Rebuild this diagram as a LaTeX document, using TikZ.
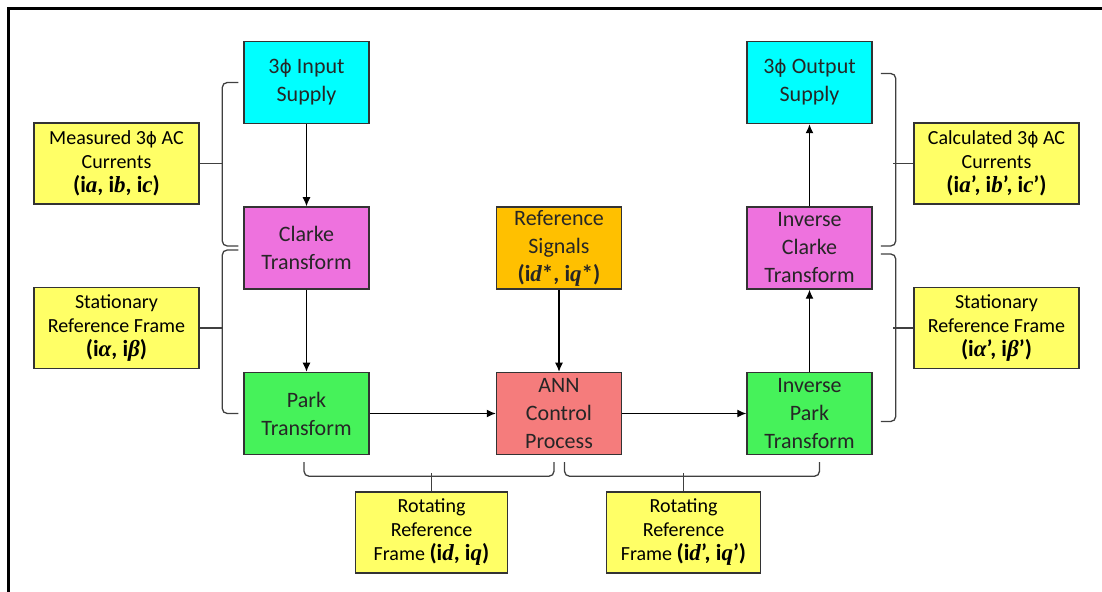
\documentclass[tikz,border=0pt]{standalone}
\usepackage{fontspec}
\setmainfont{Carlito}
\newfontfamily\phifont{DejaVu Sans}[Scale=0.85]
\newfontfamily\varfont{Liberation Serif}
\usepackage{xcolor}
\usepackage{tikz}
\usetikzlibrary{positioning,arrows.meta}
\definecolor{supplycyan}{RGB}{0,255,255}
\definecolor{clarkepink}{RGB}{238,114,222}
\definecolor{parkgreen}{RGB}{70,242,90}
\definecolor{refamber}{RGB}{255,192,0}
\definecolor{annred}{RGB}{245,124,124}
\definecolor{noteyellow}{RGB}{255,255,102}
\newcommand{\ph}{{\phifont ϕ}}
\newcommand{\vv}[1]{{\varfont\bfseries\itshape #1}}
\newcommand{\sig}[1]{{\fontsize{11.5}{13}\selectfont\bfseries #1}}

\begin{document}
\begin{tikzpicture}[x=0.5pt,y=-0.5pt,>={Latex[length=4.5pt,width=4pt]},
  blockbox/.style={draw=black!80,line width=0.75pt,minimum width=62.5pt,minimum height=41pt,
    align=center,inner sep=1pt,text=black!85,font=\fontsize{11}{14}\selectfont},
  notebox/.style={draw=black!80,fill=noteyellow,line width=0.75pt,minimum width=82.5pt,
    minimum height=40.5pt,align=center,inner sep=1pt,font=\fontsize{10}{12}\selectfont},
  bracket/.style={draw=black!75,line width=0.65pt,rounded corners=2.5pt}]
\clip (0,0) rectangle (1102,592);
\draw[line width=1.5pt] (8,600) -- (8,9) -- (1110,9);

% left chain
\node[blockbox,fill=supplycyan] (In) at (306.5,82.5) {3\ph{} Input\\Supply};
\node[blockbox,fill=clarkepink,below=41pt of In] (Clarke) {Clarke\\Transform};
\node[blockbox,fill=parkgreen,below=41pt of Clarke] (Park) {Park\\Transform};
\draw[->,semithick] (In)--(Clarke); \draw[->,semithick] (Clarke)--(Park);

% centre
\node[blockbox,fill=annred,right=63pt of Park] (ANN) {ANN\\Control\\Process};
\node[blockbox,fill=refamber,above=41pt of ANN] (Ref) {Reference\\Signals\\\sig{(i\vv{d}*, i\vv{q}*)}};
\draw[->,semithick] (Ref)--(ANN); \draw[->,semithick] (Park)--(ANN);

% right chain
\node[blockbox,fill=parkgreen,right=62pt of ANN] (InvP) {Inverse\\Park\\Transform};
\node[blockbox,fill=clarkepink,above=41pt of InvP] (InvC) {Inverse\\Clarke\\Transform};
\node[blockbox,fill=supplycyan,above=41pt of InvC] (Out) {3\ph{} Output\\Supply};
\draw[->,semithick] (ANN)--(InvP); \draw[->,semithick] (InvP)--(InvC);
\draw[->,semithick] (InvC)--(Out);

% notes
\node[notebox] (Meas) at (116.5,163.5) {Measured 3\ph{} AC\\Currents\\\sig{(i\vv{a}, i\vv{b}, i\vv{c})}};
\node[notebox] (StatL) at (116.5,328) {Stationary\\Reference Frame\\\sig{(i\vv{α}, i\vv{β})}};
\node[notebox] (Calc) at (996.5,163.5) {Calculated 3\ph{} AC\\Currents\\\sig{(i\vv{a}', i\vv{b}', i\vv{c}')}};
\node[notebox] (StatR) at (996.5,328) {Stationary\\Reference Frame\\\sig{(i\vv{α}', i\vv{β}')}};
\node[notebox,minimum width=76pt] (RotL) at (431.5,532.5) {Rotating\\Reference\\Frame \sig{(i\vv{d}, i\vv{q})}};
\node[notebox,minimum width=77pt] (RotR) at (683.5,532.5) {Rotating\\Reference\\Frame \sig{(i\vv{d}', i\vv{q}')}};

% brackets
\draw[bracket] ([xshift=-2.5pt]In.west) -- ++(-8pt,0) |- ([xshift=-2.5pt,yshift=1pt]Clarke.west);
\draw[bracket] (Meas.east) -- ++(11pt,0);
\draw[bracket] ([xshift=-2.5pt,yshift=-1pt]Clarke.west) -- ++(-8pt,0) |- ([xshift=-2.5pt]Park.west);
\draw[bracket] (StatL.east) -- ++(11pt,0);
\draw[bracket] ([xshift=4pt,yshift=4.5pt]Out.east) -- ++(7.5pt,0) |- ([xshift=4pt,yshift=1pt]InvC.east);
\draw[bracket] (Calc.west) -- ++(-10pt,0);
\draw[bracket] ([xshift=4pt,yshift=-3pt]InvC.east) -- ++(7.5pt,0) |- ([xshift=4pt,yshift=-4pt]InvP.east);
\draw[bracket] (StatR.west) -- ++(-10pt,0);
\draw[bracket] ([xshift=-1.25pt,yshift=-3.5pt]Park.south) -- ++(0,-7pt) -| ([xshift=-2.5pt,yshift=-3.5pt]ANN.south);
\draw[bracket] (RotL.north) -- ++(0,9pt);
\draw[bracket] ([xshift=2.75pt,yshift=-3.5pt]ANN.south) -- ++(0,-7pt) -| ([xshift=5pt,yshift=-3.5pt]InvP.south);
\draw[bracket] (RotR.north) -- ++(0,9pt);
\end{tikzpicture}
\end{document}
